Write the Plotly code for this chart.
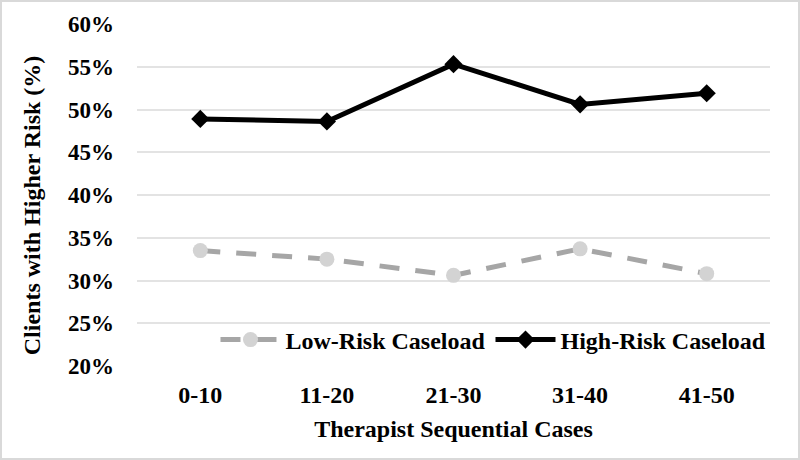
import plotly.graph_objects as go

categories = ["0-10", "11-20", "21-30", "31-40", "41-50"]
low_risk = [33.5, 32.5, 30.6, 33.7, 30.8]
high_risk = [48.9, 48.6, 55.3, 50.6, 51.9]
y_ticks = [20, 25, 30, 35, 40, 45, 50, 55, 60]
y_tick_labels = [f"{v}%" for v in y_ticks]

font_family = "Liberation Serif, Times New Roman, serif"

fig = go.Figure()
fig.add_trace(go.Scatter(
    x=categories, y=low_risk, name="<b>Low-Risk Caseload</b>", mode="lines+markers",
    line=dict(color="#A6A6A6", width=5, dash="20px,16px"),
    marker=dict(color="#D3D3D3", size=15, symbol="circle"),
))
fig.add_trace(go.Scatter(
    x=categories, y=high_risk, name="<b>High-Risk Caseload</b>", mode="lines+markers",
    line=dict(color="#000000", width=5),
    marker=dict(color="#000000", size=14, symbol="diamond"),
))

fig.update_layout(
    width=800, height=460,
    margin=dict(l=137, r=30, t=24, b=94),
    paper_bgcolor="white", plot_bgcolor="white",
    font=dict(family=font_family, size=24, color="black"),
    showlegend=True,
    legend=dict(orientation="h", x=0.124, y=0.076, xanchor="left", yanchor="middle",
                font=dict(family=font_family, size=24, color="black"),
                bgcolor="rgba(0,0,0,0)", tracegroupgap=0, itemwidth=60),
    xaxis=dict(
        range=[-0.5, 4.5], showgrid=False, zeroline=False, showline=False,
        ticks="", tickfont=dict(family=font_family, size=24, color="black"),
        tickvals=categories, ticktext=[f"<b>{c}</b>" for c in categories],
        ticklabelstandoff=12,
        title=dict(text="<b>Therapist Sequential Cases</b>", font=dict(family=font_family, size=24), standoff=13),
        automargin=False,
    ),
    yaxis=dict(
        range=[20, 60], tickvals=y_ticks, ticktext=[f"<b>{t}</b>" for t in y_tick_labels],
        showgrid=True, gridcolor="#E3E3E3", gridwidth=1.5, zeroline=False, showline=False,
        ticks="", ticklabelstandoff=22,
        tickfont=dict(family=font_family, size=23, color="black"),
        automargin=False,
    ),
    annotations=[dict(text="<b>Clients with Higher Risk (%)</b>", xref="paper", yref="paper",
                      x=-105/633, y=0.47, xanchor="center", yanchor="middle",
                      textangle=-90, showarrow=False,
                      font=dict(family=font_family, size=24, color="black"))],
    shapes=[dict(type="rect", xref="paper", yref="paper", x0=-136/633, x1=1+29/633,
                 y0=-93/342, y1=1+23/342, line=dict(color="#D9D9D9", width=2))],
)

fig.write_html("out.html", post_script="document.body.style.margin='0';",
               config={"displayModeBar": False})
